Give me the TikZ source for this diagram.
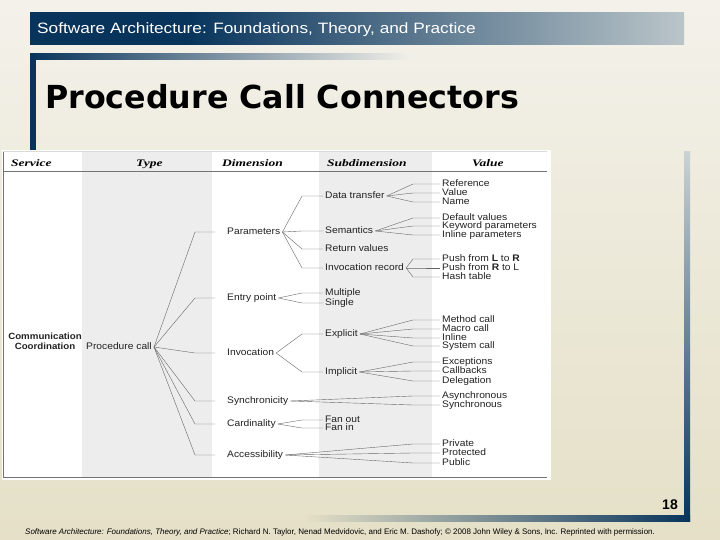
\documentclass[tikz,border=0pt]{standalone}
\usepackage{fontspec}
\setmainfont{Liberation Sans}
\newfontfamily\titlefont{DejaVu Sans}
\newfontfamily\barfont[FakeStretch=1.15]{Liberation Sans}
\newfontfamily\figfont[FakeStretch=1.08]{Liberation Sans}
\newfontfamily\headfont[FakeStretch=1.35]{Liberation Serif}

\definecolor{navy}{HTML}{08345C}
\definecolor{barlight}{HTML}{BAC5C9}
\definecolor{bgtop}{HTML}{F3F1EA}
\definecolor{bgbot}{HTML}{E5E0C7}
\definecolor{figgray}{HTML}{EDEDED}
\definecolor{figline}{HTML}{666666}
\definecolor{figink}{HTML}{222222}

\pgfdeclarehorizontalshading{topbar}{100bp}{color(0bp)=(navy); color(37bp)=(navy); color(75bp)=(barlight); color(100bp)=(barlight)}

\tikzset{
    figtext/.style={anchor=west, inner sep=2pt, text height=7pt, text depth=2pt,
        font=\figfont\fontsize{9.5}{10}\selectfont, text=figink},
    colhead/.style={anchor=base west, inner sep=0pt,
        font=\headfont\bfseries\itshape\fontsize{10}{11}\selectfont},
    branch/.style={draw=figline, line width=0.4pt},
    frameline/.style={draw=black!55, line width=0.6pt}
}

\begin{document}
\begin{tikzpicture}[x=1pt, y=-1pt]
    \useasboundingbox (0,0) rectangle (720,540);
    % slide background and frame bars
    \shade[top color=bgtop, bottom color=bgbot] (0,0) rectangle (720,540);
    \shade[shading=topbar] (30,13) rectangle (684,45);
    \shade[left color=navy, middle color=navy!55!bgtop, right color=bgtop] (30,54) rectangle (413,60);
    \fill[navy] (30,54) rectangle (36,160);
    \shade[top color=barlight!70!bgtop, middle color=navy!70!barlight, bottom color=navy] (684,152) rectangle (690,521);
    \shade[left color=bgbot, middle color=navy!45!bgbot, right color=navy] (305,515) rectangle (690,521);

    \node[anchor=base west, inner sep=0pt, text=white, font=\barfont\fontsize{15}{17}\selectfont] (hdr) at (37,34)
        {Software Architecture: Foundations, Theory, and Practice};
    \node[anchor=base west, inner sep=0pt, font=\titlefont\bfseries\fontsize{31.7}{36}\selectfont] (title) at (45,109)
        {Procedure Call Connectors};

    % the figure
    \fill[white] (2,150) rectangle (551,480);
    \fill[figgray] (82,152) rectangle (212,477);
    \fill[figgray] (319,152) rectangle (432,477);
    \draw[draw=black!15] (3,151) -- (547,151);
    \draw[frameline] (3,152) -- (3,477) -- (547,477);
    \draw[frameline] (3,171) -- (547,171);

    \node[colhead] (hsvc) at (11,167) {Service};
    \node[colhead] (htyp) at (136,167) {Type};
    \node[colhead] (hdim) at (222,167) {Dimension};
    \node[colhead] (hsub) at (327,167) {Subdimension};
    \node[colhead] (hval) at (472,167) {Value};

    \node[figtext, anchor=center, align=center, font=\figfont\bfseries\fontsize{9}{10}\selectfont] (svc) at (45,347)
        {Communication\\Coordination};
    \node[figtext] (pc) at (84,347) {Procedure call};

    % dimensions
    \node[figtext] (par) at (225,232) {Parameters};
    \node[figtext] (ent) at (225,298) {Entry point};
    \node[figtext] (invc) at (225,353) {Invocation};
    \node[figtext] (syn) at (225,401) {Synchronicity};
    \node[figtext] (card) at (225,424) {Cardinality};
    \node[figtext] (acc) at (225,455) {Accessibility};

    % subdimensions
    \node[figtext] (dtr) at (323,196) {Data transfer};
    \node[figtext] (sem) at (323,231) {Semantics};
    \node[figtext] (ret) at (323,249) {Return values};
    \node[figtext] (irec) at (323,268) {Invocation record};
    \node[figtext] (mul) at (323,293) {Multiple};
    \node[figtext] (sgl) at (323,303) {Single};
    \node[figtext] (expl) at (323,334) {Explicit};
    \node[figtext] (impl) at (323,372) {Implicit};
    \node[figtext] (fout) at (323,420) {Fan out};
    \node[figtext] (fin) at (323,428) {Fan in};

    % values
    \node[figtext] (ref) at (440,184) {Reference};
    \node[figtext] (val) at (440,193) {Value};
    \node[figtext] (nam) at (440,202) {Name};
    \node[figtext] (dflt) at (440,218) {Default values};
    \node[figtext] (kwd) at (440,226) {Keyword parameters};
    \node[figtext] (inl) at (440,235) {Inline parameters};
    \node[figtext] (plr) at (440,259) {Push from \textbf{L} to \textbf{R}};
    \node[figtext] (prl) at (440,268) {Push from \textbf{R} to L};
    \node[figtext] (hsh) at (440,277) {Hash table};
    \node[figtext] (meth) at (440,320) {Method call};
    \node[figtext] (mac) at (440,329) {Macro call};
    \node[figtext] (inli) at (440,338) {Inline};
    \node[figtext] (sys) at (440,346) {System call};
    \node[figtext] (exc) at (440,362) {Exceptions};
    \node[figtext] (cbk) at (440,371) {Callbacks};
    \node[figtext] (del) at (440,381) {Delegation};
    \node[figtext] (asy) at (440,396) {Asynchronous};
    \node[figtext] (sy) at (440,405) {Synchronous};
    \node[figtext] (pri) at (440,444) {Private};
    \node[figtext] (pro) at (440,453) {Protected};
    \node[figtext] (pub) at (440,463) {Public};

    % branches
    \foreach \d in {par,ent,invc,syn,card,acc}
        \draw[branch] (pc.east) -- (195,0 |- \d.west) -- ([xshift=-10pt]\d.west);
    \foreach \p/\kids in {par/{dtr,sem,ret,irec}, ent/{mul,sgl}, invc/{expl,impl}, card/{fout,fin}}
        \foreach \k in \kids
            \draw[branch] (\p.east) -- (302,0 |- \k.west) -- (\k.west);
    \foreach \p/\kids in {dtr/{ref,val,nam}, sem/{dflt,kwd,inl}, irec/{plr,prl,hsh},
            expl/{meth,mac,inli,sys}, impl/{exc,cbk,del}, syn/{asy,sy}, acc/{pri,pro,pub}}
        \foreach \k in \kids
            \draw[branch] (\p.east) -- (413,0 |- \k.west) -- (\k.west);

    \node[anchor=base east, inner sep=0pt, font=\bfseries\fontsize{14}{16}\selectfont] (pg) at (678,509) {18};
    \node[anchor=base west, inner sep=0pt, font=\fontsize{8}{9}\selectfont] (foot) at (25,534)
        {\textit{Software Architecture: Foundations, Theory, and Practice}; Richard N. Taylor, Nenad Medvidovic, and Eric M. Dashofy; \textcopyright{} 2008 John Wiley \& Sons, Inc. Reprinted with permission.};
\end{tikzpicture}
\end{document}
